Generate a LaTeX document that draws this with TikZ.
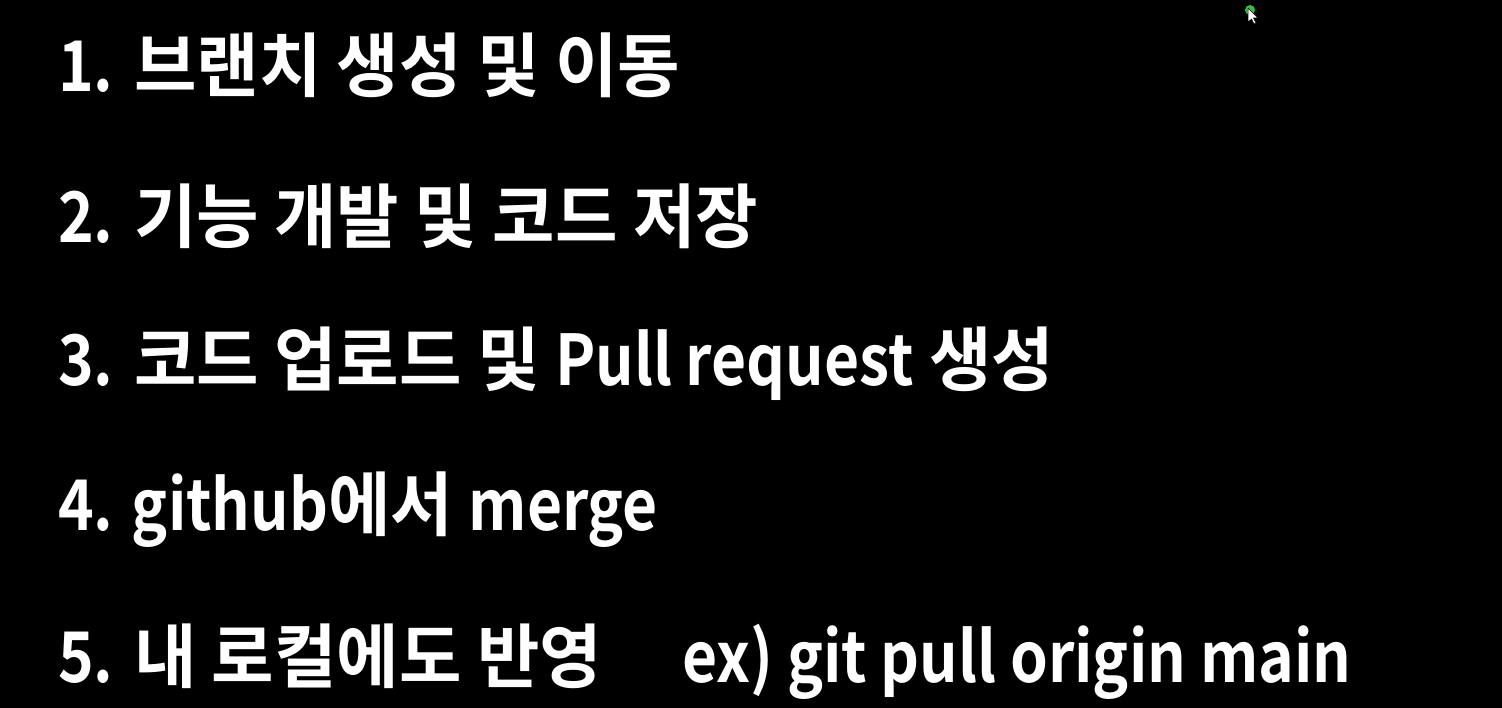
\documentclass[tikz,border=0pt]{standalone}
\usepackage{fontspec}
\setmainfont{Noto Sans CJK KR}[BoldFont={* Bold}]
\newfontfamily\kor{Noto Sans CJK KR Bold}[FakeStretch=0.97]
\newfontfamily\lat{Noto Sans CJK KR Bold}[FakeStretch=0.865]
\usetikzlibrary{positioning}

\begin{document}
\begin{tikzpicture}[x=1pt,y=-1pt,
				   every node/.style={inner sep=0pt},
				   entry/.style={anchor=base west,text=white,font=\fontsize{70}{84}\selectfont\kor}]

\fill[black] (0,0) rectangle (1502,708);
\useasboundingbox (0,0) rectangle (1502,708);

\node[entry] (one) at (58,92) {{\lat 1.} 브랜치 생성 및 이동};
\node[entry] (two) at (58,243) {{\lat 2.} 기능 개발 및 코드 저장};
\node[entry] (three) at (58,386) {{\lat 3.} 코드 업로드 및 {\lat Pull request} 생성};
\node[entry] (four) at (58,530) {{\lat 4. github}에서 {\lat merge}};
\node[entry] (five) at (58,682) {{\lat 5.} 내 로컬에도 반영};
\node[entry] (ex) at (682,682) {\lat ex) git pull origin main};

% cursor
\fill[green!70!black!80] (1250,10) circle (5);
\fill[white,draw=black,line width=0.5] (1248,8) -- (1248,22) -- (1251.5,19) -- (1254,24) -- (1256,23) -- (1253.5,18) -- (1258,18) -- cycle;

\end{tikzpicture}
\end{document}
